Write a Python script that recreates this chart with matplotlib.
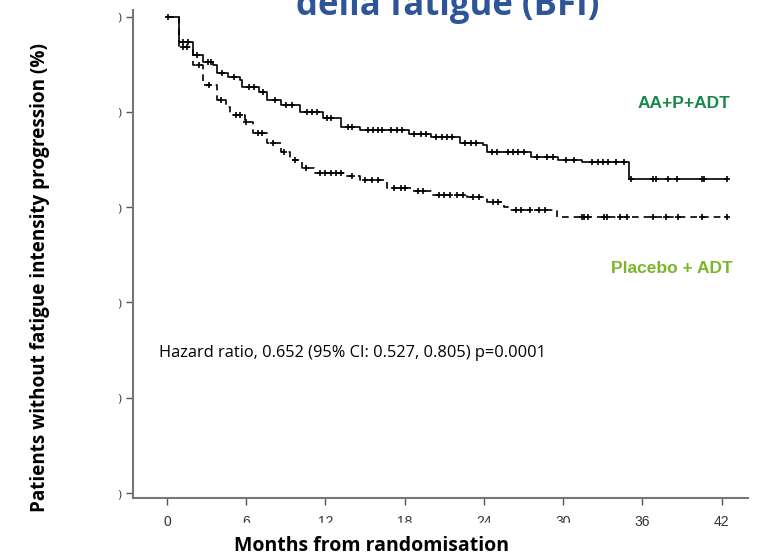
import numpy as np
import matplotlib.pyplot as plt
from matplotlib.patches import Rectangle

# Kaplan-Meier step points (months, % without progression)
aa_times = [0, 0.9, 2.0, 2.7, 3.5, 3.8, 4.6, 5.5, 5.7, 7.0, 7.6, 8.6, 10.1, 11.8,
            13.2, 14.6, 18.3, 20.0, 22.2, 23.9, 24.2, 27.6, 29.6, 31.4, 35.0, 42.4]
aa_surv = [100, 94.6, 91.9, 90.5, 89.8, 88.1, 87.3, 86.7, 85.2, 84.2, 82.5, 81.4, 80.0, 78.8,
           76.8, 76.2, 75.3, 74.8, 73.5, 73.0, 71.6, 70.5, 69.9, 69.5, 65.9, 65.9]
pl_times = [0, 0.9, 2.0, 2.7, 3.8, 4.5, 4.8, 5.9, 6.5, 7.6, 8.6, 9.3, 10.2, 11.1,
            13.5, 14.6, 16.7, 18.5, 20.1, 22.7, 24.2, 25.5, 26.0, 29.5, 42.4]
pl_surv = [100, 93.6, 89.8, 85.6, 82.5, 81.0, 79.3, 77.9, 75.5, 73.5, 71.6, 69.9, 68.2, 67.2,
           66.5, 65.7, 64.0, 63.4, 62.5, 62.1, 61.0, 60.0, 59.4, 57.9, 57.9]

# censored observations
aa_cens = [0.1, 1.2, 1.6, 2.3, 3.1, 3.3, 4.2, 5.1, 6.2, 6.6, 7.3, 8.2, 9.0, 9.5, 10.6, 11.0,
           11.4, 12.1, 12.4, 13.7, 14.0, 15.2, 15.6, 16.0, 16.3, 17.0, 17.4, 17.8, 18.7,
           19.2, 19.6, 20.4, 20.8, 21.2, 21.6, 22.6, 23.0, 23.4, 24.6, 25.0, 25.8, 26.2,
           26.6, 27.0, 28.0, 28.8, 29.2, 30.2, 30.8, 32.2, 32.6, 33.0, 33.4, 34.0, 34.6,
           35.1, 36.8, 37.0, 37.9, 38.6, 40.5, 40.7, 42.4]
pl_cens = [1.2, 1.5, 2.4, 3.2, 4.1, 5.2, 5.5, 6.0, 6.9, 7.2, 8.0, 8.9, 9.7, 10.5, 11.6, 12.0,
           12.4, 12.8, 13.2, 14.0, 15.0, 15.5, 16.0, 17.2, 17.7, 18.0, 19.0, 19.4, 20.6,
           21.0, 21.4, 22.0, 22.4, 23.2, 23.6, 24.7, 25.1, 26.4, 26.8, 27.5, 28.2, 28.6,
           31.4, 31.6, 31.9, 33.1, 33.3, 34.3, 34.8, 36.8, 37.8, 38.7, 40.5, 42.4]


def surv_at(times, surv, t):
    idx = np.searchsorted(times, t, side='right') - 1
    return np.asarray(surv)[idx]


fig = plt.figure(figsize=(7.66, 5.56), dpi=100)
ax = fig.add_axes([0.1736, 0.1043, 0.803, 0.878])

ax.step(aa_times, aa_surv, where='post', color='black', lw=1.2)
ax.plot(aa_cens, surv_at(aa_times, aa_surv, aa_cens), '+', color='black', ms=5, mew=1.2)
ax.step(pl_times, pl_surv, where='post', color='black', lw=1.2, dashes=(4, 3))
ax.plot(pl_cens, surv_at(pl_times, pl_surv, pl_cens), '+', color='black', ms=5, mew=1.2)

ax.set_xlim(-2.57, 44.0)
ax.set_ylim(-1.05, 101.4)
ax.spines['top'].set_visible(False)
ax.spines['right'].set_visible(False)
for s in ['left', 'bottom']:
    ax.spines[s].set_color('#777777')
    ax.spines[s].set_linewidth(1.5)

ax.set_xticks(range(0, 43, 6))
ax.set_xticklabels([str(v) for v in range(0, 43, 6)],
                   family=['Liberation Sans Narrow', 'Liberation Sans'], fontsize=10, color='#333333')
ax.set_yticks(range(0, 101, 20))
ax.set_yticklabels([')'] * 6, fontsize=8, color='#333333')
ax.tick_params(axis='both', color='#555555', length=5, width=1)
ax.tick_params(axis='x', pad=7)

ax.text(-0.6, 29.4, 'Hazard ratio, 0.652 (95% CI: 0.527, 0.805) p=0.0001',
        fontsize=11.8, family='Open Sans', va='center')
ax.text(42.7, 81.8, 'AA+P+ADT', color='#17884A', fontsize=12.5, fontweight='bold',
        family='Liberation Sans', ha='right', va='center')
ax.text(42.85, 47.2, 'Placebo + ADT', color='#7BB62A', fontsize=12.5, fontweight='bold',
        family='Liberation Sans', ha='right', va='center')

# white strip over the lower half of the middle tick labels
fig.patches.append(Rectangle((190 / 766, 1 - 540 / 556), 425 / 766, 17 / 556,
                             transform=fig.transFigure, color='white', zorder=5))

fig.text(371 / 766, 1 - 546 / 556, 'Months from randomisation', fontsize=14,
         fontweight='bold', family='Open Sans', ha='center', va='center', zorder=6)
fig.text(40 / 766, 1 - 278 / 556, 'Patients without fatigue intensity progression (%)',
         fontsize=13.6, fontweight='bold', family='Open Sans', rotation=90,
         ha='center', va='center')
fig.text(448 / 766, 1 - 15 / 556, 'della fatigue (BFI)', fontsize=25, fontweight='bold',
         family='Open Sans', color='#2E5597', ha='center', va='baseline')

fig.savefig('out.png', dpi=100)
